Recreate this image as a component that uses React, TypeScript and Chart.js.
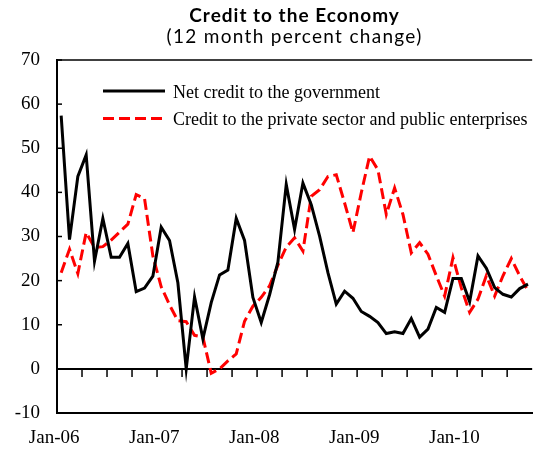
import React, { useEffect, useRef } from "react";
import { Chart, registerables } from "chart.js";

Chart.register(...registerables);

// Monthly categories, Jan-06 .. Sep-10
const months = [
  "Jan-06", "Feb-06", "Mar-06", "Apr-06", "May-06", "Jun-06", "Jul-06", "Aug-06", "Sep-06", "Oct-06", "Nov-06", "Dec-06",
  "Jan-07", "Feb-07", "Mar-07", "Apr-07", "May-07", "Jun-07", "Jul-07", "Aug-07", "Sep-07", "Oct-07", "Nov-07", "Dec-07",
  "Jan-08", "Feb-08", "Mar-08", "Apr-08", "May-08", "Jun-08", "Jul-08", "Aug-08", "Sep-08", "Oct-08", "Nov-08", "Dec-08",
  "Jan-09", "Feb-09", "Mar-09", "Apr-09", "May-09", "Jun-09", "Jul-09", "Aug-09", "Sep-09", "Oct-09", "Nov-09", "Dec-09",
  "Jan-10", "Feb-10", "Mar-10", "Apr-10", "May-10", "Jun-10", "Jul-10", "Aug-10", "Sep-10",
];

// Tick labels shown on the category axis
const xTickLabels = ["Jan-06", "Jan-07", "Jan-08", "Jan-09", "Jan-10"];

// Y axis ticks
const yTicks = [-10, 0, 10, 20, 30, 40, 50, 60, 70];

// Net credit to the government (12 month % change)
const netCreditGov = [
  57.4, 29.3, 43.6, 48.5, 24.4, 34.1, 25.3, 25.3, 28.4, 17.5, 18.3, 21.0,
  32.1, 29.1, 19.5, 0.0, 16.3, 6.8, 15.0, 21.3, 22.4, 34.1, 29.1, 16.2,
  10.5, 16.8, 24.2, 41.8, 31.6, 42.1, 37.2, 30.1, 21.8, 14.7, 17.6, 16.0,
  13.0, 11.9, 10.5, 8.0, 8.4, 8.0, 11.4, 7.2, 9.0, 13.9, 12.8, 20.5,
  20.5, 15.2, 25.6, 22.8, 18.4, 16.9, 16.3, 18.2, 19.2,
];

// Credit to the private sector and public enterprises (12 month % change)
const creditPrivate = [
  21.8, 27.1, 21.6, 30.9, 27.5, 27.7, 29.2, 31.0, 32.8, 39.5, 38.6, 25.6,
  18.6, 14.5, 10.9, 10.7, 7.6, 7.2, -1.0, 0.0, 1.8, 3.4, 10.8, 14.2,
  16.2, 18.8, 23.5, 27.6, 29.7, 26.7, 39.1, 40.6, 43.6, 44.0, 37.6, 30.9,
  39.9, 48.2, 45.1, 35.0, 41.0, 35.0, 26.3, 28.6, 26.0, 21.1, 16.5, 25.2,
  18.4, 12.8, 15.8, 21.1, 16.5, 21.1, 25.0, 21.1, 17.7,
];

const seriesNames = [
  "Net credit to the government",
  "Credit to the private sector and public enterprises",
];

const titleText = "Credit to the Economy";
const subtitleText = "(12 month percent change)";

const SERIF = '"Liberation Serif", "Times New Roman", serif';
const SANS = 'Lato, "Open Sans", sans-serif';

const decorPlugin = {
  id: "decor",
  beforeDatasetsDraw(chart: any) {
    const { ctx, chartArea: ca, scales } = chart;
    const x = scales.x;
    const y = scales.y;
    ctx.save();
    ctx.strokeStyle = "#000";
    ctx.lineCap = "butt";
    const line = (x1: number, y1: number, x2: number, y2: number) => {
      ctx.beginPath();
      ctx.moveTo(x1, y1);
      ctx.lineTo(x2, y2);
      ctx.stroke();
    };
    // top frame line
    ctx.lineWidth = 1.5;
    line(ca.left, ca.top, ca.right, ca.top);
    // zero axis line
    const y0 = y.getPixelForValue(0);
    ctx.lineWidth = 2;
    line(ca.left, y0, ca.right, y0);
    // category tick marks every 3 months (band boundaries)
    ctx.lineWidth = 1.5;
    for (let i = 3; i < months.length; i += 3) {
      const xp = (x.getPixelForValue(i - 1) + x.getPixelForValue(i)) / 2;
      line(xp, y0, xp, y0 + 8);
    }
    // inside y tick marks
    for (const v of yTicks) {
      const yp = y.getPixelForValue(v);
      line(ca.left, yp, ca.left + 5, yp);
    }
    ctx.restore();
  },
  afterDraw(chart: any) {
    const { ctx, chartArea: ca } = chart;
    ctx.save();
    const cx = (ca.left + ca.right) / 2;
    ctx.fillStyle = "#000";
    ctx.textAlign = "center";
    ctx.textBaseline = "alphabetic";
    ctx.font = `bold 19px ${SANS}`;
    (ctx as any).letterSpacing = "1px";
    ctx.fillText(titleText, cx, ca.top - 38);
    ctx.font = `19px ${SANS}`;
    (ctx as any).letterSpacing = "1.3px";
    ctx.fillText(subtitleText, cx, ca.top - 17);
    (ctx as any).letterSpacing = "0px";

    // legend
    const ds = chart.data.datasets;
    const lx1 = ca.left + 46;
    const lx2 = ca.left + 108;
    const tx = ca.left + 116;
    const rows = [ca.top + 31, ca.top + 58.5];
    ctx.font = `18px ${SERIF}`;
    ctx.textAlign = "left";
    ds.forEach((d: any, k: number) => {
      const yy = rows[k];
      ctx.strokeStyle = d.borderColor;
      ctx.lineWidth = d.borderWidth;
      ctx.setLineDash(d.borderDash || []);
      ctx.beginPath();
      ctx.moveTo(lx1, yy);
      ctx.lineTo(lx2, yy);
      ctx.stroke();
      ctx.setLineDash([]);
      ctx.fillStyle = "#000";
      ctx.fillText(d.label, tx, yy + 6.8);
    });
    ctx.restore();
  },
};

export default function App() {
  const ref = useRef<HTMLCanvasElement | null>(null);

  useEffect(() => {
    if (!ref.current) return;
    const chart = new Chart(ref.current, {
      type: "line",
      data: {
        labels: months,
        datasets: [
          {
            label: seriesNames[0],
            data: netCreditGov,
            borderColor: "#000000",
            borderWidth: 3,
            pointRadius: 0,
            tension: 0,
            fill: false,
          },
          {
            label: seriesNames[1],
            data: creditPrivate,
            borderColor: "#ff0000",
            borderWidth: 3,
            borderDash: [11, 5],
            pointRadius: 0,
            tension: 0,
            fill: false,
          },
        ],
      },
      options: {
        responsive: false,
        animation: false,
        devicePixelRatio: 1,
        layout: { padding: { top: 60, right: 0, bottom: 0, left: 0 } },
        plugins: {
          legend: { display: false },
          title: { display: false },
          tooltip: { enabled: false },
        },
        scales: {
          x: {
            type: "category",
            offset: true,
            grid: { display: false, drawTicks: false },
            border: { display: true, color: "#000", width: 2 },
            ticks: {
              autoSkip: false,
              maxRotation: 0,
              minRotation: 0,
              labelOffset: -7,
              padding: 14,
              color: "#000",
              font: { family: SERIF, size: 19 },
              callback: (_v: any, i: number) =>
                xTickLabels.includes(months[i]) ? months[i] : "",
            },
            afterFit: (s: any) => {
              s.height = 39;
            },
          },
          y: {
            min: -10,
            max: 70,
            grid: { display: false, drawTicks: false },
            border: { display: true, color: "#000", width: 2 },
            ticks: {
              stepSize: 10,
              padding: 17,
              color: "#000",
              font: { family: SERIF, size: 19 },
            },
            afterFit: (s: any) => {
              s.width = 57;
            },
          },
        },
      },
      plugins: [decorPlugin],
    });
    return () => chart.destroy();
  }, []);

  return (
    <div style={{ position: "fixed", left: 0, top: 0, width: 542, height: 452, background: "#fff" }}>
      <canvas ref={ref} width={542} height={452} style={{ display: "block" }} />
    </div>
  );
}
